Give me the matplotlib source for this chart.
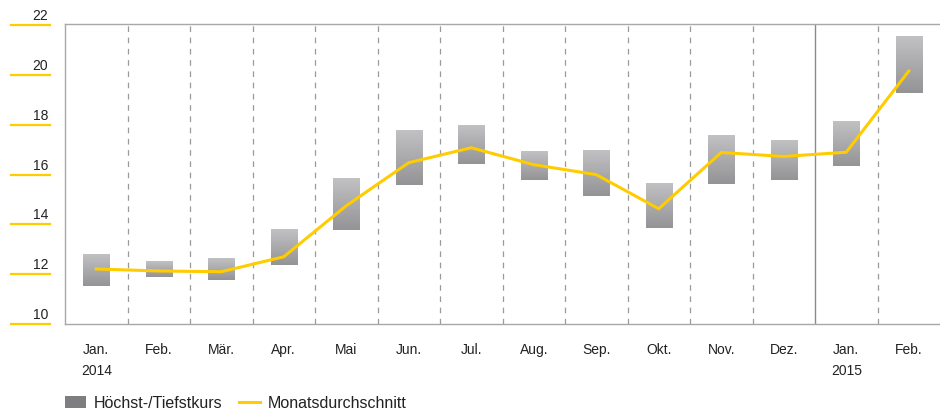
"""Monthly high/low range and monthly average of the share price."""

import matplotlib.pyplot as plt
import numpy as np
from matplotlib.lines import Line2D
from matplotlib.patches import Patch

months = ["Jan.", "Feb.", "Mär.", "Apr.", "Mai", "Jun.", "Jul.", "Aug.",
          "Sep.", "Okt.", "Nov.", "Dez.", "Jan.", "Feb."]
years = {0: "2014", 12: "2015"}
highs = [12.82, 12.54, 12.66, 13.79, 15.84, 17.77, 17.97, 16.93,
         16.97, 15.64, 17.57, 17.37, 18.10, 21.56]
lows = [11.54, 11.90, 11.78, 12.38, 13.76, 15.60, 16.44, 15.80,
        15.16, 13.87, 15.64, 15.80, 16.33, 19.28]
averages = [12.21, 12.13, 12.10, 12.70, 14.75, 16.48, 17.08, 16.40,
            16.00, 14.63, 16.89, 16.73, 16.90, 20.16]
yticks = [10, 12, 14, 16, 18, 20, 22]

YELLOW = "#ffcc00"
GRID = "#9a9a9a"

plt.rcParams["font.family"] = ["Liberation Sans", "DejaVu Sans"]
plt.rcParams["font.size"] = 10

fig = plt.figure(figsize=(9.4, 4.1), dpi=100)
ax = fig.add_axes([65 / 940, 1 - 325 / 410, 875 / 940, 300 / 410])

x = np.arange(len(months))
width = 0.42

# Vertical month separators.
for sep in x[:-1] + 0.5:
    if sep == 11.5:
        ax.axvline(sep, color="#8a8a8a", lw=1.0, zorder=1)
    else:
        ax.axvline(sep, color=GRID, lw=0.9, ls=(0, (4.5, 4.5)), zorder=1)

# High/low bars with a vertical gradient.
grad = np.linspace(0, 1, 64).reshape(-1, 1)
cmap = plt.matplotlib.colors.LinearSegmentedColormap.from_list(
    "bar", ["#c1c1c3", "#949497"])
for xi, lo, hi in zip(x, lows, highs):
    ax.imshow(grad, cmap=cmap, aspect="auto", origin="upper",
              extent=[xi - width / 2, xi + width / 2, lo, hi], zorder=2)

ax.plot(x, averages, color=YELLOW, lw=2.2, zorder=3,
        solid_joinstyle="miter")

ax.set_xlim(-0.5, len(months) - 0.5)
ax.set_ylim(10, 22.05)

for side in ["left", "bottom", "top"]:
    ax.spines[side].set_color("#a8a8a8")
    ax.spines[side].set_linewidth(1.0)
ax.spines["right"].set_visible(False)

ax.set_xticks(x)
ax.set_xticklabels(months, color="#222222")
ax.tick_params(axis="x", length=0, pad=13)
ax.set_yticks([])

# Y labels with yellow underline, left of the axis.
ytrans = ax.get_yaxis_transform()
for t in yticks:
    ax.plot([(11 - 65) / 875, (50 - 65) / 875], [t, t], color=YELLOW,
            lw=1.6, transform=ytrans, clip_on=False)
    ax.text((48 - 65) / 875, t + 0.12, str(t), transform=ytrans,
            ha="right", va="bottom", color="#222222")

xtrans = ax.get_xaxis_transform()
for xi, label in years.items():
    ax.text(xi, -46 / 300, label, transform=xtrans, ha="center",
            va="center", color="#222222")

handles = [Patch(facecolor="#7e7e81", edgecolor="none"),
           Line2D([0], [0], color=YELLOW, lw=2.2)]
fig.legend(handles, ["Höchst-/Tiefstkurs", "Monatsdurchschnitt"],
           loc="center left", bbox_to_anchor=(65 / 940, 6 / 410), ncol=2,
           frameon=False, fontsize=11.5, handlelength=1.3,
           handleheight=0.7, handletextpad=0.5, columnspacing=1.05,
           borderaxespad=0, borderpad=0, labelcolor="#222222")

fig.savefig("out.png", dpi=100)
